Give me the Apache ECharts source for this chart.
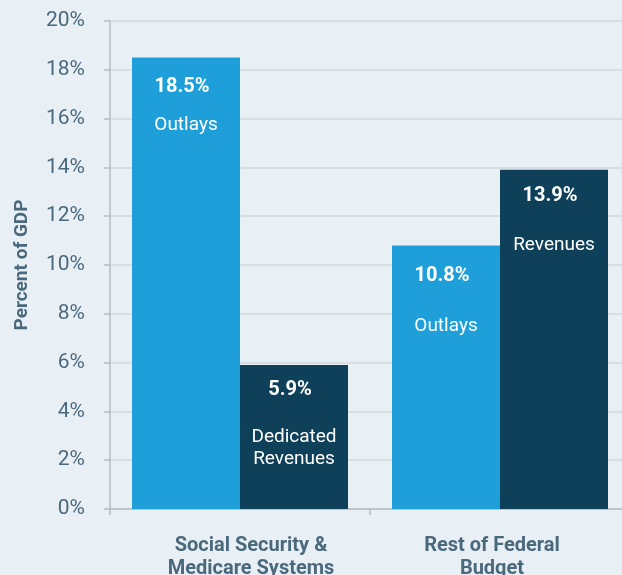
<!DOCTYPE html>
<html>
<head>
<meta charset="utf-8">
<script src="https://cdn.jsdelivr.net/npm/echarts@6/dist/echarts.min.js"></script>
<style>
  html, body { margin: 0; padding: 0; background: #e9f0f5; }
  #chart { width: 622px; height: 575px; }
</style>
</head>
<body>
<div id="chart"></div>
<script>
// Budget groups along the x axis
const categories = ['Social Security &\nMedicare Systems', 'Rest of Federal\nBudget'];
// Percent of GDP
const outlays = [18.5, 10.8];
const revenues = [5.9, 13.9];
// Text written inside each bar
const outlayNames = ['Outlays', 'Outlays'];
const revenueNames = ['Dedicated\nRevenues', 'Revenues'];
const yTicks = [0, 2, 4, 6, 8, 10, 12, 14, 16, 18, 20];

const FONT = 'Roboto, "Liberation Sans", sans-serif';
const TEXT = '#4b697d';

// spacing of the value line above the name line, per bar
const outlayLayout = [{ lv: 56, dy: 1 }, { lv: 78, dy: -8 }];
const revenueLayout = [{ lv: 72, dy: -11 }, { lv: 76, dy: -12 }];
// nudges for the two category captions
const captionPadding = [[0, 0, 0, 22], [0, 16, 0, 0]];

function items(values, names, layout) {
  return values.map((v, i) => ({
    value: v,
    label: {
      show: true,
      position: 'insideTop',
      distance: 0,
      offset: [0, layout[i].dy],
      formatter: '{v|' + v.toFixed(1) + '%}\n{n|' + names[i].split('\n').join('}\n{n|') + '}',
      rich: {
        v: { fontFamily: FONT, fontSize: 20, fontWeight: 'bold', color: '#ffffff',
             lineHeight: layout[i].lv, padding: [0, 8, 0, 0] },
        n: { fontFamily: FONT, fontSize: 19, color: '#ffffff', lineHeight: 22 }
      }
    }
  }));
}

const chart = echarts.init(document.getElementById('chart'), null, { renderer: 'canvas' });
chart.setOption({
  backgroundColor: '#e9f0f5',
  animation: false,
  grid: {
    left: 110, right: -8, top: 21, bottom: 66,
    containLabel: false, outerBoundsMode: 'none'
  },
  xAxis: {
    type: 'category',
    data: categories.map((c, i) => ({ value: c, textStyle: { padding: captionPadding[i] } })),
    axisLine: { show: true, lineStyle: { color: '#b7bcc1', width: 1.5 } },
    axisTick: { show: true, length: 6, lineStyle: { color: '#b7bcc1', width: 1.5 } },
    axisLabel: {
      interval: 0,
      hideOverlap: false,
      margin: 25,
      fontFamily: FONT, fontSize: 20, fontWeight: 'bold', color: TEXT, lineHeight: 23
    }
  },
  yAxis: {
    type: 'value',
    min: yTicks[0],
    max: yTicks[yTicks.length - 1],
    interval: yTicks[1] - yTicks[0],
    name: 'Percent of GDP',
    nameLocation: 'middle',
    nameGap: 78,
    nameTextStyle: { fontFamily: FONT, fontSize: 19, fontWeight: 'bold', color: TEXT },
    axisLine: { show: true, lineStyle: { color: '#b7bcc1', width: 1.5 } },
    axisTick: { show: true, length: 6, lineStyle: { color: '#b7bcc1', width: 1.5 } },
    axisLabel: {
      margin: 25,
      formatter: '{value}%',
      fontFamily: FONT, fontSize: 21, color: TEXT
    },
    splitLine: { show: true, lineStyle: { color: '#d2d8dd', width: 1.5 } }
  },
  series: [
    {
      name: 'Outlays',
      type: 'bar',
      barWidth: 108,
      barGap: '0%',
      itemStyle: { color: '#1e9fd9' },
      data: items(outlays, outlayNames, outlayLayout)
    },
    {
      name: 'Revenues',
      type: 'bar',
      barWidth: 108,
      barGap: '0%',
      itemStyle: { color: '#0e405a' },
      data: items(revenues, revenueNames, revenueLayout)
    }
  ]
});
</script>
</body>
</html>
